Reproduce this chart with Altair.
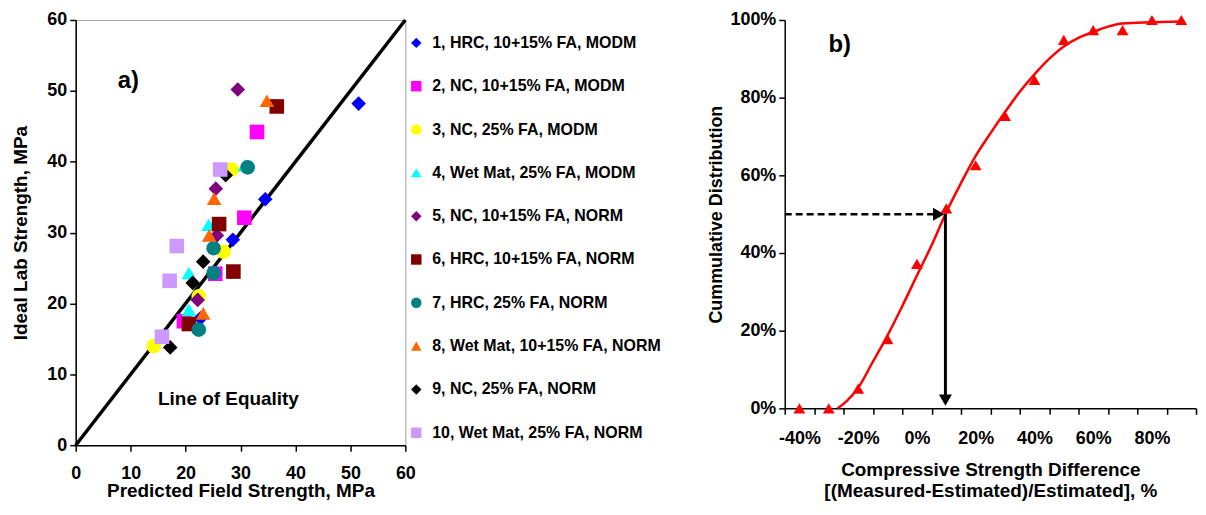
import altair as alt
import pandas as pd

FONT = "Liberation Sans"

# ---------------- panel a) data ----------------
series_names = [
    "1, HRC, 10+15% FA, MODM",
    "2, NC, 10+15% FA, MODM",
    "3, NC, 25% FA, MODM",
    "4, Wet Mat, 25% FA, MODM",
    "5, NC, 10+15% FA, NORM",
    "6, HRC, 10+15% FA, NORM",
    "7, HRC, 25% FA, NORM",
    "8, Wet Mat, 10+15% FA, NORM",
    "9, NC, 25% FA, NORM",
    "10, Wet Mat, 25% FA, NORM",
]
series_colors = ["#0000FF", "#FF00FF", "#FFFF00", "#00FFFF", "#800080",
                 "#800000", "#008080", "#FF6600", "#000000", "#CC99FF"]
series_shapes = ["diamond", "square", "circle", "triangle-up", "diamond",
                 "square", "circle", "triangle-up", "diamond", "square"]

predicted_field = [
    [51.5, 34.5, 28.6, 22.7],
    [33.0, 30.7, 25.4, 19.7],
    [28.4, 26.9, 22.4, 14.2],
    [30.8, 24.2, 20.6, 20.6],
    [29.5, 25.5, 25.7, 22.2],
    [36.6, 26.1, 28.7, 20.6],
    [31.3, 25.1, 25.1, 22.4],
    [34.8, 25.2, 24.3, 23.2],
    [27.3, 23.2, 21.3, 17.2],
    [26.3, 18.4, 17.1, 15.7],
]
ideal_lab = [
    [48.2, 34.7, 29.0, 17.9],
    [44.2, 32.1, 24.2, 17.5],
    [38.9, 27.3, 21.0, 14.0],
    [39.5, 31.1, 24.3, 19.1],
    [50.2, 36.2, 29.6, 20.5],
    [47.8, 31.2, 24.5, 17.1],
    [39.2, 27.8, 24.3, 16.3],
    [48.6, 34.8, 29.6, 18.6],
    [38.1, 25.9, 22.9, 13.8],
    [38.9, 28.1, 23.2, 15.3],
]
equality_line = [0, 60]
left_ticks = [0, 10, 20, 30, 40, 50, 60]

# ---------------- panel b) data ----------------
diff_categories = [-40, -30, -20, -10, 0, 10, 20, 30, 40, 50, 60, 70, 80, 90]
cum_distribution = [0, 0, 5.1, 17.8, 37.2, 51.5, 62.6, 75.3, 84.6, 94.9, 97.4, 97.4, 100, 100]
fit_x = [-27, -24, -20, -15, -10, -5, 0, 5, 10, 15, 20, 25, 30, 35, 40, 45, 50, 55, 60, 65, 70, 80, 90]
fit_y = [0, 1.8, 5.3, 12.0, 18.8, 26.3, 34.2, 42.0, 50.5, 58.0, 65.0, 70.8, 76.3, 81.5, 86.0,
         90.0, 93.2, 95.4, 96.9, 98.3, 99.1, 99.4, 99.6]
guide_level = 50
guide_x = 9.7
axis_start = -45
axis_end = 95
right_y_ticks = [0, 20, 40, 60, 80, 100]

# ---------------- panel a) ----------------
rows = []
for name, xs, ys in zip(series_names, predicted_field, ideal_lab):
    for fx, ly in zip(xs, ys):
        rows.append({"series": name, "field": fx, "lab": ly})
pts = pd.DataFrame(rows)
equality = pd.DataFrame({"field": equality_line, "lab": equality_line})

x_left = alt.X("field:Q", scale=alt.Scale(domain=[0, 60], nice=False, zero=False),
               axis=alt.Axis(values=left_ticks, title="Predicted Field Strength, MPa",
                             labelPadding=13, titlePadding=0))
y_left = alt.Y("lab:Q", scale=alt.Scale(domain=[0, 60], nice=False, zero=False),
               axis=alt.Axis(values=left_ticks, title="Ideal Lab Strength, MPa",
                             labelPadding=3, titlePadding=16))

legend = alt.Legend(title=None, orient="none", legendX=334, legendY=15, symbolSize=110,
                    labelFontSize=16, labelFont=FONT, labelFontWeight="bold", labelColor="black",
                    labelLimit=400, rowPadding=27.5, labelOffset=8, symbolStrokeWidth=0, padding=0)

line_eq = alt.Chart(equality).mark_line(color="black", strokeWidth=3.5).encode(x=x_left, y=y_left)
points = alt.Chart(pts).mark_point(filled=True, opacity=1, size=215, strokeWidth=0).encode(
    x=x_left, y=y_left,
    color=alt.Color("series:N", scale=alt.Scale(domain=series_names, range=series_colors), legend=legend),
    shape=alt.Shape("series:N", scale=alt.Scale(domain=series_names, range=series_shapes), legend=legend),
)
text_a = alt.Chart(pd.DataFrame({"field": [9.6], "lab": [51.4], "txt": ["a)"]})).mark_text(
    font=FONT, fontSize=24, fontWeight="bold", color="black").encode(x=x_left, y=y_left, text="txt:N")
text_eq = alt.Chart(pd.DataFrame({"field": [27.8], "lab": [6.5], "txt": ["Line of Equality"]})).mark_text(
    font=FONT, fontSize=19, fontWeight="bold", color="black").encode(x=x_left, y=y_left, text="txt:N")

left = alt.layer(line_eq, points, text_a, text_eq).properties(
    width=331, height=427, view=alt.ViewBackground(stroke="#a0a0a0", strokeWidth=1))

# ---------------- panel b) ----------------
x_right = alt.X("diff:Q", scale=alt.Scale(domain=[axis_start, axis_end], nice=False, zero=False),
                axis=alt.Axis(values=list(range(axis_start, axis_end + 1, 5)),
                              labelExpr="(datum.value % 20 == 0 && datum.value >= -40 && datum.value <= 80) ? datum.value + '%' : ''",
                              tickOpacity={"condition": {"test": "abs(datum.value) % 10 == 5", "value": 1}, "value": 0},
                              labelOverlap=False, labelPadding=15,
                              title=["Compressive Strength Difference", "[(Measured-Estimated)/Estimated], %"],
                              titlePadding=13, titleLineHeight=22))
y_right = alt.Y("cum:Q", scale=alt.Scale(domain=[0, 100], nice=False, zero=False),
                axis=alt.Axis(values=right_y_ticks, labelExpr="datum.value + '%'",
                              title="Cummulative Distribution", titleFontSize=18,
                              labelPadding=3, titlePadding=4))

fit_df = pd.DataFrame({"diff": fit_x, "cum": fit_y})
obs_df = pd.DataFrame({"diff": diff_categories, "cum": cum_distribution})

fit_line = alt.Chart(fit_df).mark_line(color="#FF0000", strokeWidth=2.5, interpolate="monotone").encode(
    x=x_right, y=y_right)
obs_pts = alt.Chart(obs_df).mark_point(shape="triangle-up", filled=True, color="#FF0000",
                                       size=140, opacity=1, strokeWidth=0).encode(x=x_right, y=y_right)

dash_df = pd.DataFrame({"diff": [axis_start], "diff2": [guide_x - 2.5], "cum": [guide_level]})
dash = alt.Chart(dash_df).mark_rule(color="black", strokeWidth=2.5, strokeDash=[7, 4]).encode(
    x=x_right, x2="diff2:Q", y=y_right)
vert_df = pd.DataFrame({"diff": [guide_x], "cum": [guide_level], "cum2": [2.5]})
vert = alt.Chart(vert_df).mark_rule(color="black", strokeWidth=3).encode(x=x_right, y=y_right, y2="cum2:Q")
head_r = alt.Chart(pd.DataFrame({"diff": [guide_x - 2.3], "cum": [guide_level]})).mark_point(
    shape="triangle-right", filled=True, color="black", size=170, opacity=1).encode(x=x_right, y=y_right)
head_d = alt.Chart(pd.DataFrame({"diff": [guide_x], "cum": [2.1]})).mark_point(
    shape="triangle-down", filled=True, color="black", size=170, opacity=1).encode(x=x_right, y=y_right)
text_b = alt.Chart(pd.DataFrame({"diff": [-26.3], "cum": [93.6], "txt": ["b)"]})).mark_text(
    font=FONT, fontSize=24, fontWeight="bold", color="black").encode(x=x_right, y=y_right, text="txt:N")

right = alt.layer(fit_line, obs_pts, dash, vert, head_r, head_d, text_b).properties(width=413, height=390)

chart = alt.hconcat(left, right, spacing=292).properties(
    padding={"left": 3, "top": 1, "right": 0, "bottom": 0}
).configure_axis(
    labelFont=FONT, labelFontSize=18, labelFontWeight="bold", labelColor="black",
    titleFont=FONT, titleFontSize=19, titleFontWeight="bold", titleColor="black",
    domainColor="black", domainWidth=1.5, tickColor="black", tickWidth=1.5, tickSize=6,
    grid=False, labelFlush=False,
).configure_view(stroke="transparent")

chart.save("out.html", embed_options={"renderer": "svg", "actions": False})
